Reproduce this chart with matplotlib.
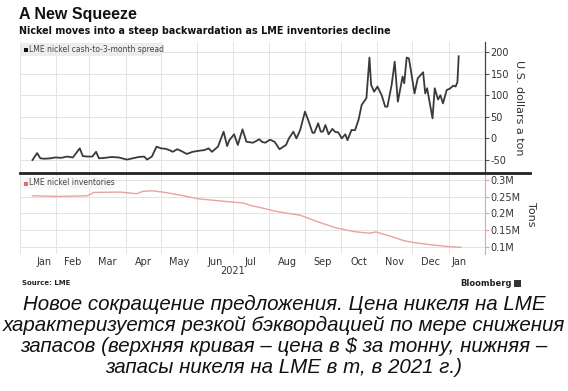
import matplotlib
matplotlib.use("Agg")
import matplotlib.pyplot as plt
from matplotlib.lines import Line2D
from matplotlib.patches import Rectangle

# ---- data (day index: 0 = 1 Jan 2021) ----
spread_days = [10.6, 14.6, 17.3, 21, 26, 30, 35, 40, 45, 50.9, 53.5, 58, 61.6, 64.8, 67.2, 72, 78, 84,
               91.1, 96, 101, 105.8, 108.2, 112.3, 116.3, 120, 124, 128, 130, 134, 138, 142, 147, 152.5,
               157, 160.6, 163.5, 168.6, 173.4, 176.4, 178.3, 182.3, 185.5, 189.5, 192.8, 198.4, 203.8,
               206, 208.8, 212.9, 216.9, 221, 226.6, 229, 232.8, 235.4, 238.6, 242.7, 245.9, 249.1, 250.7,
               253.9, 256.1, 258, 260.1, 262.8, 266, 268.4, 271, 274, 277, 278.9, 282.3, 285.3, 288.3,
               291, 295, 297.6, 299, 301.6, 304.4, 308, 311, 312.9, 316.5, 319.1, 321.8, 325.8, 327.2,
               329.3, 331.2, 332.6, 336, 338.7, 343.3, 345.1, 346.7, 351.3, 353.2, 356, 358, 360.2, 363.4,
               366, 369, 371, 372.5, 373.6]
spread_vals = [-50, -34, -46, -47, -46, -44, -45, -42, -44, -23, -41, -42, -42, -31, -46, -45, -43, -44,
               -49, -46, -43, -42, -49, -42, -19, -23, -24, -28, -31, -25, -30, -36, -31, -28.5,
               -27, -23, -31, -19, 15.5, -17.6, -4, 9.5, -15, 21, -7.6, -10, -2,
               -8, -10, -3, -8, -25, -15, 0, 15.5, 0, 19.5, 62, 39, 13, 13,
               35, 15.6, 16, 31, 9.5, 22, 15, 14, 0, 9.5, -4, 19.5, 19, 43,
               77.7, 93, 187, 124, 108, 120, 100, 73.5, 73.5, 124, 177.5, 85, 143, 127.5,
               187, 185, 162, 104, 139, 153, 104, 116, 46.5, 116, 90, 100, 81, 112,
               115, 122, 120, 130, 190]

inv_days = [10.6, 32, 57.5, 62.9, 85.7, 99.2, 104.5, 112.5, 123.3, 139.4, 151.5, 166.2, 190.3, 197,
            203.8, 217.1, 230.6, 238.6, 252.1, 268.2, 284.3, 297.6, 303, 316.5, 327.2, 337.9, 351.3,
            364.7, 375.5]
inv_vals = [253000, 251000, 253000, 263000, 264000, 259000, 266000, 268000, 263000, 253000, 244000,
            239000, 231000, 223500, 218500, 207000, 199000, 195000, 177000, 158000, 146000, 141000,
            145000, 131000, 118500, 112000, 106000, 101000, 99000]

month_names = ["Jan", "Feb", "Mar", "Apr", "May", "Jun", "Jul", "Aug", "Sep", "Oct", "Nov", "Dec", "Jan"]
month_starts = [0, 31, 59, 90, 120, 151, 181, 212, 243, 273, 304, 334, 365, 396]
spread_ticks = [-50, 0, 50, 100, 150, 200]
inv_ticks = [100000, 150000, 200000, 250000, 300000]
inv_tick_labels = ["0.1M", "0.15M", "0.2M", "0.25M", "0.3M"]

title = "A New Squeeze"
subtitle = "Nickel moves into a steep backwardation as LME inventories decline"
caption = ("Новое сокращение предложения. Цена никеля на LME\n"
           "характеризуется резкой бэквордацией по мере снижения\n"
           "запасов (верхняя кривая – цена в $ за тонну, нижняя –\n"
           "запасы никеля на LME в т, в 2021 г.)")

W, H = 568, 391
fig = plt.figure(figsize=(W / 100, H / 100), dpi=100)
fig.patch.set_facecolor("white")

def fx(px):
    return px / W

def fy(py):
    return 1 - py / H

xmin, xmax = 9.3, 383.5
grid_c = "#e4e4e4"
text_c = "#333333"
pink = "#e8a2a2"

# top axes
ax1 = fig.add_axes([fx(20), fy(173), fx(485) - fx(20), fy(42) - fy(173)])
ax1.plot(spread_days, spread_vals, color="#3a3a3a", lw=1.3)
ax1.set_xlim(xmin, xmax)
ax1.set_ylim(-80, 223)
ax1.yaxis.tick_right()
ax1.set_yticks(spread_ticks)
ax1.set_yticklabels([str(t) for t in spread_ticks])
ax1.tick_params(axis="y", direction="out", length=3, width=0.8, colors="#555555",
                labelsize=7, labelcolor=text_c, pad=1)
ax1.set_xticks(month_starts)
ax1.tick_params(axis="x", length=0, labelbottom=False)
ax1.grid(True, color=grid_c, lw=0.7)
for s in ["top", "left", "bottom"]:
    ax1.spines[s].set_visible(False)
ax1.spines["right"].set_color("#444444")
ax1.spines["right"].set_linewidth(0.9)
ax1.set_ylabel("U.S. dollars a ton", rotation=270, fontsize=8, color=text_c, labelpad=11)
ax1.yaxis.set_label_position("right")

# bottom axes
ax2 = fig.add_axes([fx(20), fy(254), fx(485) - fx(20), fy(174) - fy(254)])
ax2.plot(inv_days, inv_vals, color=pink, lw=1.0)
ax2.set_xlim(xmin, xmax)
ax2.set_ylim(79000, 318000)
ax2.yaxis.tick_right()
ax2.set_yticks(inv_ticks)
ax2.set_yticklabels(inv_tick_labels)
ax2.tick_params(axis="y", direction="out", length=3, width=0.8, colors=pink,
                labelsize=7, labelcolor=text_c, pad=1)
ax2.set_xticks(month_starts)
ax2.set_xticklabels([""] * len(month_starts))
mids = []
for i in range(len(month_names)):
    a = max(month_starts[i], xmin)
    b = min(month_starts[i + 1], xmax)
    mids.append((a + b) / 2)
ax2.set_xticks(mids, minor=True)
ax2.set_xticklabels(month_names, minor=True)
ax2.tick_params(axis="x", which="both", length=0, labelsize=7, labelcolor=text_c, pad=2)
ax2.grid(True, which="major", color=grid_c, lw=0.7)
for s in ["top", "left", "bottom"]:
    ax2.spines[s].set_visible(False)
ax2.spines["right"].set_color(pink)
ax2.set_ylabel("Tons", rotation=270, fontsize=8, color=text_c, labelpad=11)
ax2.yaxis.set_label_position("right")
ax2.text(181, -0.21, "2021", transform=ax2.get_xaxis_transform(), ha="center", va="center",
         fontsize=7, color=text_c)

# separator line
fig.add_artist(Line2D([fx(20), fx(530)], [fy(173), fy(173)], color="#222222", lw=2))

# legends
fig.add_artist(Rectangle((fx(21), fy(56)), fx(161) - fx(21), fy(43) - fy(56), color="#ededed", lw=0))
fig.add_artist(Rectangle((fx(24), fy(52)), fx(4), fy(0) - fy(4), color="#111111", lw=0))
fig.text(fx(29), fy(49.5), "LME nickel cash-to-3-month spread", fontsize=5.5, color="#444444",
         va="center")
fig.add_artist(Rectangle((fx(21), fy(189)), fx(114) - fx(21), fy(177) - fy(189), color="#f7f7f7", lw=0))
fig.add_artist(Rectangle((fx(24), fy(185.5)), fx(4), fy(0) - fy(4), color="#e07070", lw=0))
fig.text(fx(29), fy(183), "LME nickel inventories", fontsize=5.5, color="#444444", va="center")

# titles
fig.text(fx(19), fy(15), title, fontsize=11.5, fontweight="bold", color="#111111", va="center",
         family="Liberation Sans")
fig.text(fx(19), fy(31), subtitle, fontsize=6.9, fontweight="bold", color="#111111", va="center",
         family="DejaVu Sans")

fig.text(fx(22), fy(283), "Source: LME", fontsize=5, fontweight="bold", color="#222222", va="center")
fig.text(fx(512), fy(283), "Bloomberg", fontsize=6, fontweight="bold", color="#222222", va="center",
         ha="right")
fig.add_artist(Rectangle((fx(514), fy(287)), fx(7), fy(0) - fy(7), color="#333333", lw=0))

fig.text(0.5, fy(336), caption, fontsize=14.8, style="italic", ha="center", va="center",
         family="Liberation Sans", color="#111111", linespacing=1.15)

fig.savefig("out.png", dpi=100)
